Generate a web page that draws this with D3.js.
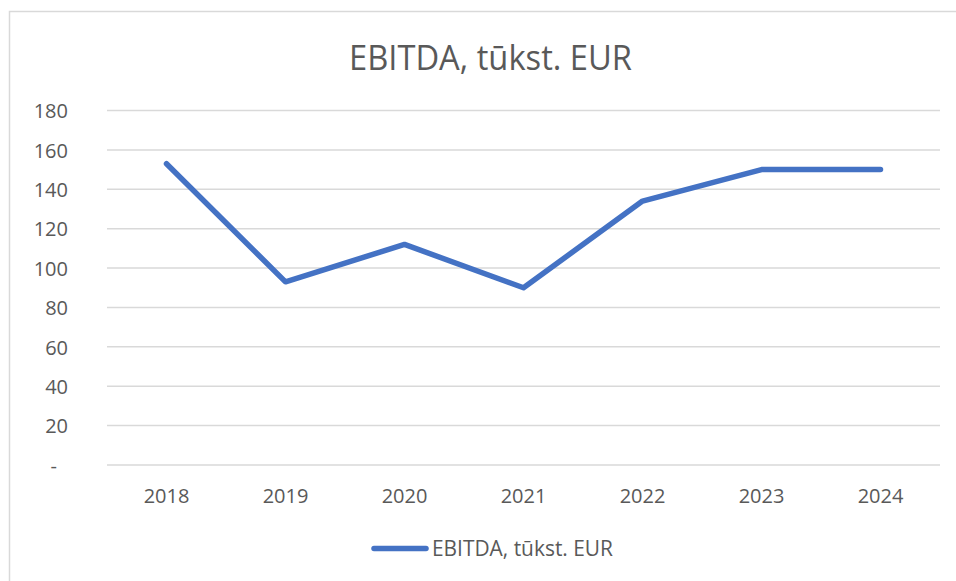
<!DOCTYPE html>
<html>
<head>
<meta charset="utf-8">
<script src="https://cdn.jsdelivr.net/npm/d3@7"></script>
<style>
  body { margin: 0; background: #fff; }
  text { font-family: "Open Sans", sans-serif; fill: #595959; }
</style>
</head>
<body>
<div class="canvas"></div>
<script>
// data
const years = ["2018", "2019", "2020", "2021", "2022", "2023", "2024"];
const ebitda = [153, 93, 112, 90, 134, 150, 150];
const yTicks = [0, 20, 40, 60, 80, 100, 120, 140, 160, 180];
const title = "EBITDA, tūkst. EUR";

const width = 956;
const height = 581;

const svg = d3.select(".canvas").append("svg")
  .attr("width", width)
  .attr("height", height);

// chart border
svg.append("rect")
  .attr("x", 9.5)
  .attr("y", 11.5)
  .attr("width", 980)
  .attr("height", 600)
  .attr("fill", "#fff")
  .attr("stroke", "#d9d9d9")
  .attr("stroke-width", 1.5);

const x = d3.scaleBand().domain(years).range([107, 940]);
const y = d3.scaleLinear().domain([0, 180]).range([465, 110.5]);

// gridlines
svg.append("g")
  .selectAll("line")
  .data(yTicks)
  .enter()
  .append("line")
  .attr("x1", 107)
  .attr("x2", 940)
  .attr("y1", (d) => y(d))
  .attr("y2", (d) => y(d))
  .attr("stroke", "#d9d9d9")
  .attr("stroke-width", 1.5);

// y axis labels
const yAxis = svg.append("g")
  .attr("transform", "translate(68,0)")
  .call(d3.axisLeft(y).tickValues(yTicks).tickSize(0).tickPadding(0)
    .tickFormat((d) => (d === 0 ? "-" : d)));
yAxis.select(".domain").remove();
yAxis.selectAll("text")
  .style("font-size", "20px")
  .attr("fill", "#595959")
  .attr("dy", "0.36em")
  .attr("dx", (d) => (d === 0 ? -11 : 0));

// x axis labels
const xAxis = svg.append("g")
  .attr("transform", "translate(0,465)")
  .call(d3.axisBottom(x).tickSize(0).tickPadding(0));
xAxis.select(".domain").remove();
xAxis.selectAll("text")
  .style("font-size", "20px")
  .attr("fill", "#595959")
  .attr("dy", "38px");

// line
const line = d3.line()
  .x((d, i) => x(years[i]) + x.bandwidth() / 2)
  .y((d) => y(d));

svg.append("path")
  .datum(ebitda)
  .attr("d", line)
  .attr("fill", "none")
  .attr("stroke", "#4472C4")
  .attr("stroke-width", 5.5)
  .attr("stroke-linecap", "round")
  .attr("stroke-linejoin", "round");

// title
svg.append("text")
  .attr("x", 490.5)
  .attr("y", 70)
  .attr("text-anchor", "middle")
  .attr("textLength", 283)
  .attr("lengthAdjust", "spacingAndGlyphs")
  .style("font-size", "34px")
  .text(title);

// legend
svg.append("line")
  .attr("x1", 374)
  .attr("x2", 426)
  .attr("y1", 548.5)
  .attr("y2", 548.5)
  .attr("stroke", "#4472C4")
  .attr("stroke-width", 5.5)
  .attr("stroke-linecap", "round");

svg.append("text")
  .attr("x", 432)
  .attr("y", 556)
  .attr("textLength", 181)
  .attr("lengthAdjust", "spacingAndGlyphs")
  .style("font-size", "22px")
  .text(title);
</script>
</body>
</html>
